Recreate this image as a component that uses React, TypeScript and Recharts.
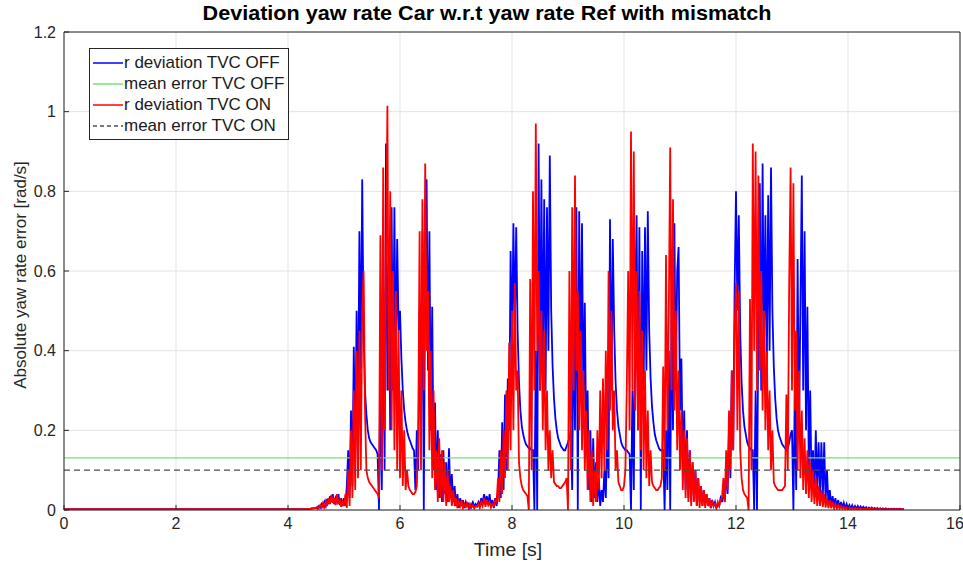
import React from "react";
import {
  LineChart,
  Line,
  XAxis,
  YAxis,
  CartesianGrid,
  ReferenceLine,
  Legend,
} from "recharts";

const TITLE = "Deviation yaw rate Car w.r.t yaw rate Ref with mismatch";
const X_LABEL = "Time [s]";
const Y_LABEL = "Absolute yaw rate error [rad/s]";

const X_TICKS = [0, 2, 4, 6, 8, 10, 12, 14, 16];
const Y_TICKS = [0, 0.2, 0.4, 0.6, 0.8, 1, 1.2];

const LEGEND_LABELS = [
  "r deviation TVC OFF",
  "mean error TVC OFF",
  "r deviation TVC ON",
  "mean error TVC ON",
];

// mean error levels
const MEAN_OFF = 0.131;
const MEAN_ON = 0.1;

// quiet part before the manoeuvre
const LEAD_T = [0, 2, 3.5];
const LEAD_OFF = [0.002, 0.002, 0.002];
const LEAD_ON = [0.002, 0.002, 0.002];

// sampled part: 4.0 s .. 15.0 s, 40 samples per second
const SAMPLE_START = 4;
const SAMPLE_STEP = 0.025;

const OFF_VALUES = [
  // 4 s
  .002, .002, .002, .002, .002, .002, .002, .002, .002, .002,
  .002, .002, .002, .002, .002, .003, .003, .004, .004, .005,
  .006, .004, .01, .006, .015, .008, .02, .01, .028, .015,
  .035, .02, .04, .015, .03, .02, .04, .012, .03, .01,
  // 5 s
  .03, .01, .06, .15, .03, .25, .06, .41, .12, .5,
  .2, .7, .35, .83, .45, .3, .24, .2, .18, .17,
  .165, .16, .155, .15, .14, 0, .35, .05, .55, .1,
  .92, .3, .62, .2, .76, .3, .76, .35, .68, .45,
  // 6 s
  .5, .38, .3, .25, .22, .2, .185, .175, .165, .155,
  .15, .05, .2, .1, .5, .2, .7, 0, .6, .83,
  .35, .7, .2, .51, .1, .27, .05, .2, .03, .14,
  .02, .15, .04, .12, .02, .155, .03, .09, .02, .06,
  // 7 s
  .01, .04, .005, .03, .01, .025, .005, .02, .01, .015,
  .005, .012, .02, .008, .015, .01, .02, .012, .03, .015,
  .04, .02, .035, .015, .04, .01, .025, .005, .03, .01,
  .04, .15, .03, .22, .05, .29, .1, .33, .2, .65,
  // 8 s
  .4, .72, .45, .71, .45, .32, .25, .21, .19, .175,
  .165, .16, .155, .155, .15, .15, 0, .4, 0, .92,
  .3, .83, .35, .78, .3, .76, .4, .89, .5, .36,
  .28, .23, .2, .18, .17, .16, .155, .15, .15, .16,
  // 9 s
  .17, .18, .2, .05, .5, .2, .76, 0, .75, .3,
  .72, .25, .52, .15, .3, .05, .2, .02, .18, .03,
  .12, .02, .08, .01, .05, .02, .1, .03, .2, .08,
  .73, .3, .68, .45, .32, .25, .21, .19, .17, .16,
  // 10 s
  .155, .15, .15, .145, .14, 0, .3, .05, .5, .74,
  .2, .71, 0, .65, .3, .71, .35, .75, .45, .33,
  .26, .22, .19, .175, .165, .155, .15, .15, .15, 0,
  .2, .05, .4, 0, .55, .2, .72, .3, .6, .66,
  // 11 s
  .25, .38, .1, .25, .05, .2, .03, .15, .02, .12,
  .03, .1, .01, .08, .02, .06, .01, .05, .02, .04,
  .01, .03, .005, .025, .01, .02, .005, .015, .01, .03,
  .02, .05, .02, .1, .04, .2, .08, .35, .15, .55,
  // 12 s
  .8, .5, .74, .45, .32, .25, .21, .19, .17, .16,
  .155, .15, .15, 0, .3, 0, .5, .82, .3, .87,
  .4, .74, .35, .79, .4, .86, .5, .36, .28, .23,
  .2, .185, .175, .165, .16, .155, .15, .155, .17, .19,
  // 13 s
  .2, 0, .3, .05, .63, .2, .5, .84, .3, .7,
  .2, .51, .1, .3, .05, .15, .03, .2, .05, .17,
  .04, .17, .03, .17, .02, .1, .015, .05, .01, .035,
  .01, .03, .008, .025, .006, .02, .005, .018, .004, .015,
  // 14 s
  .004, .012, .003, .012, .003, .01, .003, .01, .003, .009,
  .003, .008, .003, .007, .002, .006, .002, .006, .002, .005,
  .002, .005, .002, .004, .002, .004, .002, .004, .002, .003,
  .002, .003, .002, .003, .002, .003, .002, .003, .002, .002,
  // 15 s
  .002,
];

const ON_VALUES = [
  // 4 s
  .002, .002, .002, .002, .002, .002, .002, .002, .002, .002,
  .002, .002, .002, .002, .003, .003, .003, .004, .004, .005,
  .005, .008, .004, .012, .006, .018, .008, .022, .01, .03,
  .015, .038, .018, .03, .012, .04, .015, .025, .008, .02,
  // 5 s
  .01, .04, .005, .1, .01, .2, .03, .3, .05, .4,
  .08, .45, .1, .5, .6, .25, .1, .08, .07, .065,
  .06, .055, .05, .045, .04, .03, .69, .1, .86, .2,
  .6, 1.015, .3, .8, .2, .6, .15, .55, .1, .45,
  // 6 s
  .08, .3, .06, .2, .05, .1, .06, .05, .045, .04,
  .04, .045, .06, .18, .7, .1, .78, .3, .87, .4,
  .55, .15, .4, .08, .3, .05, .15, .02, .18, .03,
  .15, .02, .12, .01, .1, .02, .06, .01, .05, .01,
  // 7 s
  .03, .005, .02, .01, .025, .005, .015, .008, .02, .004,
  .015, .006, .012, .004, .01, .008, .015, .005, .02, .01,
  .03, .008, .025, .012, .02, .006, .015, .01, .025, .02,
  .08, .02, .15, .04, .2, .08, .3, .1, .42, .15,
  // 8 s
  .5, .2, .57, .3, .35, .12, .08, .06, .05, .045,
  .04, .035, 0, .58, .1, .8, .3, .97, .4, .6,
  .3, .5, .2, .45, .15, .3, .1, .2, .08, .15,
  .07, .065, .06, .06, .055, .055, .06, .065, .07, .08,
  // 9 s
  0, .6, .1, .76, .3, .84, .35, .55, .2, .45,
  .15, .35, .1, .25, .05, .2, .02, .15, .01, .1,
  .02, .2, .05, .3, .08, .33, .1, .4, .15, .6,
  .25, .5, .2, .3, .1, .15, .07, .06, .05, .05,
  // 10 s
  .06, .1, .31, .6, .2, .95, .3, .9, .25, .6,
  .2, .55, .15, .45, .1, .35, .08, .25, .06, .15,
  .07, .06, .055, .05, .05, .055, .06, .08, .36, .1,
  .64, .2, .5, .91, .3, .78, .25, .5, .15, .35,
  // 11 s
  .1, .25, .05, .2, .03, .18, .02, .15, .01, .12,
  .02, .1, .01, .08, .005, .06, .01, .05, .005, .04,
  .01, .03, .005, .02, .01, .015, .005, .02, .01, .025,
  .03, .08, .02, .15, .05, .25, .1, .35, .15, .45,
  // 12 s
  .57, .2, .55, .15, .08, .05, .04, .035, .03, 0,
  .53, .1, .92, .4, .9, .3, .84, .35, .6, .25,
  .5, .2, .4, .15, .3, .1, .2, .07, .06, .055,
  .05, .05, .05, .05, .055, .06, .29, .1, .57, .86,
  // 13 s
  .3, .82, .25, .45, .1, .35, .08, .25, .05, .18,
  .04, .15, .03, .12, .02, .1, .015, .08, .01, .06,
  .01, .05, .008, .04, .006, .03, .005, .025, .004, .02,
  .004, .015, .003, .012, .003, .01, .003, .008, .002, .007,
  // 14 s
  .002, .006, .002, .005, .002, .005, .002, .004, .002, .004,
  .002, .003, .002, .003, .002, .003, .002, .003, .002, .002,
  .002, .002, .002, .002, .002, .002, .002, .002, .002, .002,
  .002, .002, .002, .002, .002, .002, .002, .002, .002, .002,
  // 15 s
  .001,
];

const BLUE = "#0000ff";
const RED = "#ff0000";
const GREEN = "#74e074";
const DASH_GRAY = "#4d4d4d";
const AXIS = "#262626";
const FONT = '"Liberation Sans", Arial, Helvetica, sans-serif';

const LEGEND_COLORS = [BLUE, GREEN, RED, DASH_GRAY];
const LEGEND_DASH = [undefined, undefined, undefined, "4 3"];

const DATA = [
  ...LEAD_T.map((t, i) => ({ t, off: LEAD_OFF[i], on: LEAD_ON[i] })),
  ...OFF_VALUES.map((v, i) => ({
    t: +(SAMPLE_START + i * SAMPLE_STEP).toFixed(3),
    off: v,
    on: ON_VALUES[i],
  })),
];

function LegendBox() {
  return (
    <div
      style={{
        width: 196,
        border: "1px solid " + AXIS,
        background: "#fff",
        padding: "3px 0 3px 2px",
        fontFamily: FONT,
        fontSize: 17,
        color: "#1a1a1a",
        lineHeight: "21px",
      }}
    >
      {LEGEND_LABELS.map((label, i) => (
        <div key={label} style={{ display: "flex", alignItems: "center", whiteSpace: "nowrap" }}>
          <svg width={32} height={10}>
            <line
              x1={1}
              y1={5}
              x2={31}
              y2={5}
              stroke={LEGEND_COLORS[i]}
              strokeWidth={1.5}
              strokeDasharray={LEGEND_DASH[i]}
            />
          </svg>
          <span>{label}</span>
        </div>
      ))}
    </div>
  );
}

export default function App() {
  const tickStyle = { fill: AXIS, fontSize: 16, fontFamily: FONT };
  return (
    <div style={{ position: "absolute", left: 0, top: 0, width: 963, height: 568, background: "#fff" }}>
      <svg
        width={963}
        height={568}
        style={{ position: "absolute", left: 0, top: 0 }}
        fontFamily={FONT}
      >
        <text
          x={0}
          y={0}
          transform="translate(487 20) scale(1.08 1)"
          textAnchor="middle"
          fontSize={20}
          fontWeight="bold"
          fill="#000"
        >
          {TITLE}
        </text>
        <text
          x={0}
          y={0}
          transform="translate(508 556) scale(1.08 1)"
          textAnchor="middle"
          fontSize={18}
          fill={AXIS}
        >
          {X_LABEL}
        </text>
        <text
          x={0}
          y={0}
          transform="translate(26 275) rotate(-90)"
          textAnchor="middle"
          fontSize={17}
          fill={AXIS}
        >
          {Y_LABEL}
        </text>
      </svg>
      <LineChart
        width={963}
        height={568}
        data={DATA}
        margin={{ top: 31, right: 2, bottom: 28, left: 24 }}
      >
        <CartesianGrid stroke="#e3e3e3" />
        <XAxis
          dataKey="t"
          type="number"
          domain={[0, 16]}
          ticks={X_TICKS}
          allowDataOverflow
          height={30}
          stroke={AXIS}
          tickSize={-5}
          tickMargin={13}
          tick={tickStyle}
        />
        <XAxis
          xAxisId="top"
          orientation="top"
          type="number"
          domain={[0, 16]}
          ticks={X_TICKS}
          height={1}
          stroke={AXIS}
          tickSize={-5}
          tick={false}
        />
        <YAxis
          type="number"
          domain={[0, 1.2]}
          ticks={Y_TICKS}
          allowDataOverflow
          width={40}
          stroke={AXIS}
          tickSize={-5}
          tickMargin={13}
          tick={tickStyle}
        />
        <YAxis
          yAxisId="right"
          orientation="right"
          type="number"
          domain={[0, 1.2]}
          ticks={Y_TICKS}
          width={1}
          stroke={AXIS}
          tickSize={-5}
          tick={false}
        />
        <Line
          dataKey="off"
          stroke={BLUE}
          strokeWidth={1.8}
          dot={false}
          activeDot={false}
          isAnimationActive={false}
        />
        <ReferenceLine y={MEAN_OFF} stroke={GREEN} strokeWidth={1.3} />
        <Line
          dataKey="on"
          stroke={RED}
          strokeWidth={1.8}
          dot={false}
          activeDot={false}
          isAnimationActive={false}
        />
        <ReferenceLine y={MEAN_ON} stroke={DASH_GRAY} strokeWidth={1.3} strokeDasharray="6 4" />
        <Legend
          layout="horizontal"
          verticalAlign="middle"
          align="center"
          content={() => <LegendBox />}
          wrapperStyle={{ left: 89, top: 48, width: "auto", height: "auto" }}
        />
      </LineChart>
    </div>
  );
}
